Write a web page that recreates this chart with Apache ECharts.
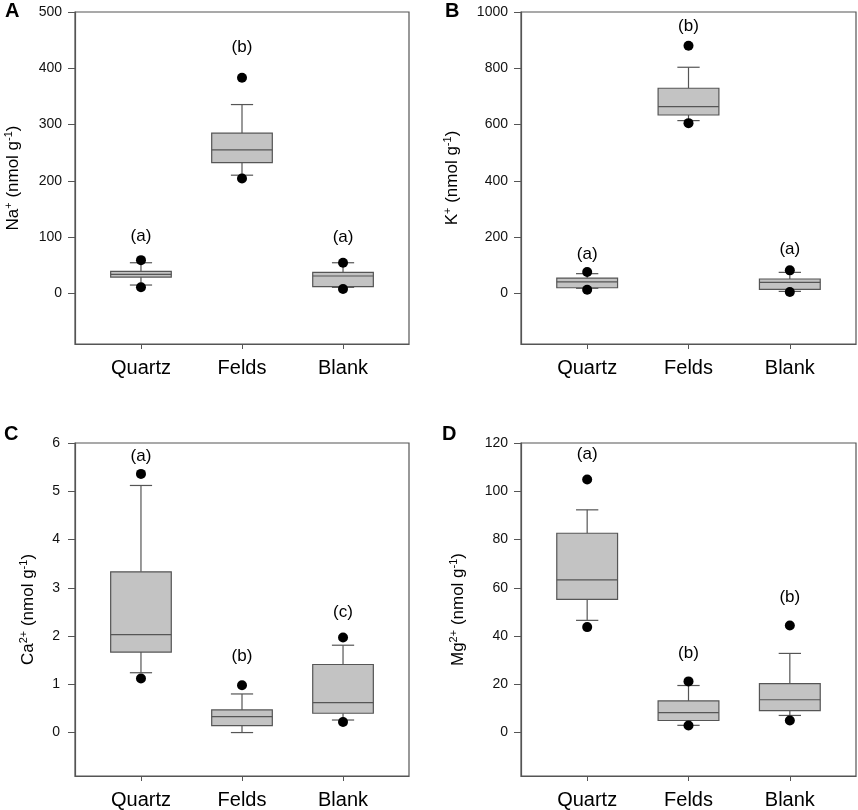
<!DOCTYPE html>
<html><head><meta charset="utf-8">
<script src="https://cdn.jsdelivr.net/npm/echarts@6/dist/echarts.min.js"></script>
<style>html,body{margin:0;padding:0;background:#fff}#c{width:858px;height:810px}</style>
</head><body><div id="c"></div>
<script>
const categories = ['Quartz', 'Felds', 'Blank'];

// Each box: [lower whisker, Q1, median, Q3, upper whisker]
const naBoxes = [[14.8, 29, 33.7, 39, 54.4], [210, 232.5, 255, 284.6, 335.5], [10.7, 11.8, 30.8, 37.3, 54.4]];
const naDots = [[11, 59], [204, 383], [7.7, 54.4]];
const naLetters = ['(a)', '(b)', '(a)'];
const naLetterY = [102, 437, 99];
const naTicks = [0, 100, 200, 300, 400, 500];
const naRange = [-90, 500];

const kBoxes = [[18, 20, 41, 54.4, 70], [614, 634, 664, 729, 803.6], [7, 14, 39, 51, 74.6]];
const kDots = [[13, 76], [605, 880], [4.7, 81.7]];
const kLetters = ['(a)', '(b)', '(a)'];
const kLetterY = [137, 948, 155];
const kTicks = [0, 200, 400, 600, 800, 1000];
const kRange = [-180, 1000];

const caBoxes = [[1.24, 1.668, 2.03, 3.33, 5.12], [0, 0.145, 0.33, 0.47, 0.80], [0.26, 0.40, 0.62, 1.41, 1.81]];
const caDots = [[1.12, 5.36], [null, 0.98], [0.22, 1.97]];
const caLetters = ['(a)', '(b)', '(c)'];
const caLetterY = [5.72, 1.57, 2.49];
const caTicks = [0, 1, 2, 3, 4, 5, 6];
const caRange = [-0.9, 6];

const mgBoxes = [[46.5, 55.2, 63.3, 82.6, 92.3], [3.0, 5.0, 8.3, 13.1, 19.5], [7.1, 9.1, 13.6, 20.3, 32.8]];
const mgDots = [[43.7, 104.9], [2.9, 21.2], [5.0, 44.4]];
const mgLetters = ['(a)', '(b)', '(b)'];
const mgLetterY = [115.2, 33, 56];
const mgTicks = [0, 20, 40, 60, 80, 100, 120];
const mgRange = [-18, 120];

const panelLabels = ['A', 'B', 'C', 'D'];
const yNames = ['Na{sup|+} (nmol g{sup|-1})', 'K{sup|+} (nmol g{sup|-1})', 'Ca{sup|2+} (nmol g{sup|-1})', 'Mg{sup|2+} (nmol g{sup|-1})'];

const panels = [
  { boxes: naBoxes, dots: naDots, letters: naLetters, letterY: naLetterY, ticks: naTicks, range: naRange },
  { boxes: kBoxes, dots: kDots, letters: kLetters, letterY: kLetterY, ticks: kTicks, range: kRange },
  { boxes: caBoxes, dots: caDots, letters: caLetters, letterY: caLetterY, ticks: caTicks, range: caRange },
  { boxes: mgBoxes, dots: mgDots, letters: mgLetters, letterY: mgLetterY, ticks: mgTicks, range: mgRange }
];

// layout
const gridPos = [
  { left: 75, top: 12, width: 334, height: 332 },
  { left: 521, top: 12, width: 335, height: 332 },
  { left: 75, top: 443, width: 334, height: 333 },
  { left: 521, top: 443, width: 335, height: 333 }
];
const nameGaps = [52, 59, 37, 53];
const labelPos = [{ left: 5, top: 1 }, { left: 445, top: 1 }, { left: 4, top: 424 }, { left: 442, top: 424 }];

const FONT = '"Liberation Sans", Arial, sans-serif';
const LINE = '#555';
const BOX_W = 0.6, CAP_W = 0.22;

function renderBox(params, api) {
  const x = api.value(0);
  const lo = api.value(1), q1 = api.value(2), med = api.value(3), q3 = api.value(4), hi = api.value(5);
  const bw = api.size([BOX_W, 0])[0];
  const cw = api.size([CAP_W, 0])[0];
  const c = (v) => api.coord([x, v]);
  const pLo = c(lo), pQ1 = c(q1), pMed = c(med), pQ3 = c(q3), pHi = c(hi);
  const cx = pMed[0];
  const ls = { stroke: LINE, lineWidth: 1.2 };
  return {
    type: 'group',
    children: [
      { type: 'line', shape: { x1: cx, y1: pQ3[1], x2: cx, y2: pHi[1] }, style: ls },
      { type: 'line', shape: { x1: cx - cw / 2, y1: pHi[1], x2: cx + cw / 2, y2: pHi[1] }, style: ls },
      { type: 'line', shape: { x1: cx, y1: pQ1[1], x2: cx, y2: pLo[1] }, style: ls },
      { type: 'line', shape: { x1: cx - cw / 2, y1: pLo[1], x2: cx + cw / 2, y2: pLo[1] }, style: ls },
      { type: 'rect', shape: { x: cx - bw / 2, y: pQ3[1], width: bw, height: pQ1[1] - pQ3[1] },
        style: { fill: '#c3c3c3', stroke: LINE, lineWidth: 1.2 } },
      { type: 'line', shape: { x1: cx - bw / 2, y1: pMed[1], x2: cx + bw / 2, y2: pMed[1] }, style: ls }
    ]
  };
}

function makeLetterRenderer(letters) {
  return function (params, api) {
    const p = api.coord([api.value(0), api.value(1)]);
    return {
      type: 'text',
      style: { text: letters[params.dataIndex], x: p[0], y: p[1], align: 'center', verticalAlign: 'middle',
        font: '17px "Liberation Sans", Arial, sans-serif', fill: '#000' }
    };
  };
}

const grid = [], xAxis = [], yAxis = [], series = [], title = [];
panels.forEach((p, i) => {
  grid.push(Object.assign({ show: true, borderColor: LINE, borderWidth: 1.2, backgroundColor: 'transparent', containLabel: false, outerBoundsMode: 'none' }, gridPos[i]));
  xAxis.push({
    gridIndex: i, type: 'value', min: 0.347, max: 3.653,
    axisLine: { show: true, onZero: false, lineStyle: { color: LINE, width: 1.2 } },
    axisTick: { show: true, inside: false, length: 5, customValues: [1, 2, 3], lineStyle: { color: LINE } },
    axisLabel: { customValues: [1, 2, 3], formatter: (v) => categories[Math.round(v) - 1], fontFamily: FONT, fontSize: 20, color: '#000', margin: 14 },
    splitLine: { show: false }
  });
  yAxis.push({
    gridIndex: i, type: 'value', min: p.range[0], max: p.range[1],
    name: yNames[i], nameLocation: 'middle', nameGap: nameGaps[i],
    nameTextStyle: { fontFamily: FONT, fontSize: 17, color: '#000', lineHeight: 20,
      rich: { sup: { fontFamily: FONT, fontSize: 11, color: '#000', verticalAlign: 'top', lineHeight: 10 } } },
    axisLine: { show: true, onZero: false, lineStyle: { color: LINE, width: 1.2 } },
    axisTick: { show: true, inside: false, length: 7, customValues: p.ticks, lineStyle: { color: LINE } },
    axisLabel: { customValues: p.ticks, formatter: (v) => String(v), fontFamily: FONT, fontSize: 14, color: '#111', margin: i === 2 ? 15 : 13 },
    splitLine: { show: false }
  });
  series.push({
    type: 'custom', xAxisIndex: i, yAxisIndex: i, z: 2, silent: true,
    renderItem: renderBox,
    encode: { x: 0, y: [1, 2, 3, 4, 5] },
    data: p.boxes.map((b, k) => [k + 1].concat(b))
  });
  const dotData = [];
  p.dots.forEach((d, k) => d.forEach((v) => { if (v != null) dotData.push([k + 1, v]); }));
  series.push({
    type: 'scatter', xAxisIndex: i, yAxisIndex: i, z: 3, silent: true,
    symbol: 'circle', symbolSize: 10, itemStyle: { color: '#000', opacity: 1 },
    data: dotData
  });
  series.push({
    type: 'custom', xAxisIndex: i, yAxisIndex: i, z: 4, silent: true,
    renderItem: makeLetterRenderer(p.letters),
    encode: { x: 0, y: 1 },
    data: p.letterY.map((v, k) => [k + 1, v])
  });
  title.push(Object.assign({ text: panelLabels[i], textStyle: { fontFamily: FONT, fontSize: 20, fontWeight: 'bold', color: '#000' }, padding: 0 }, labelPos[i]));
});

const chart = echarts.init(document.getElementById('c'), null, { renderer: 'canvas' });
chart.setOption({ animation: false, backgroundColor: '#fff', title, grid, xAxis, yAxis, series });
</script>
</body></html>
